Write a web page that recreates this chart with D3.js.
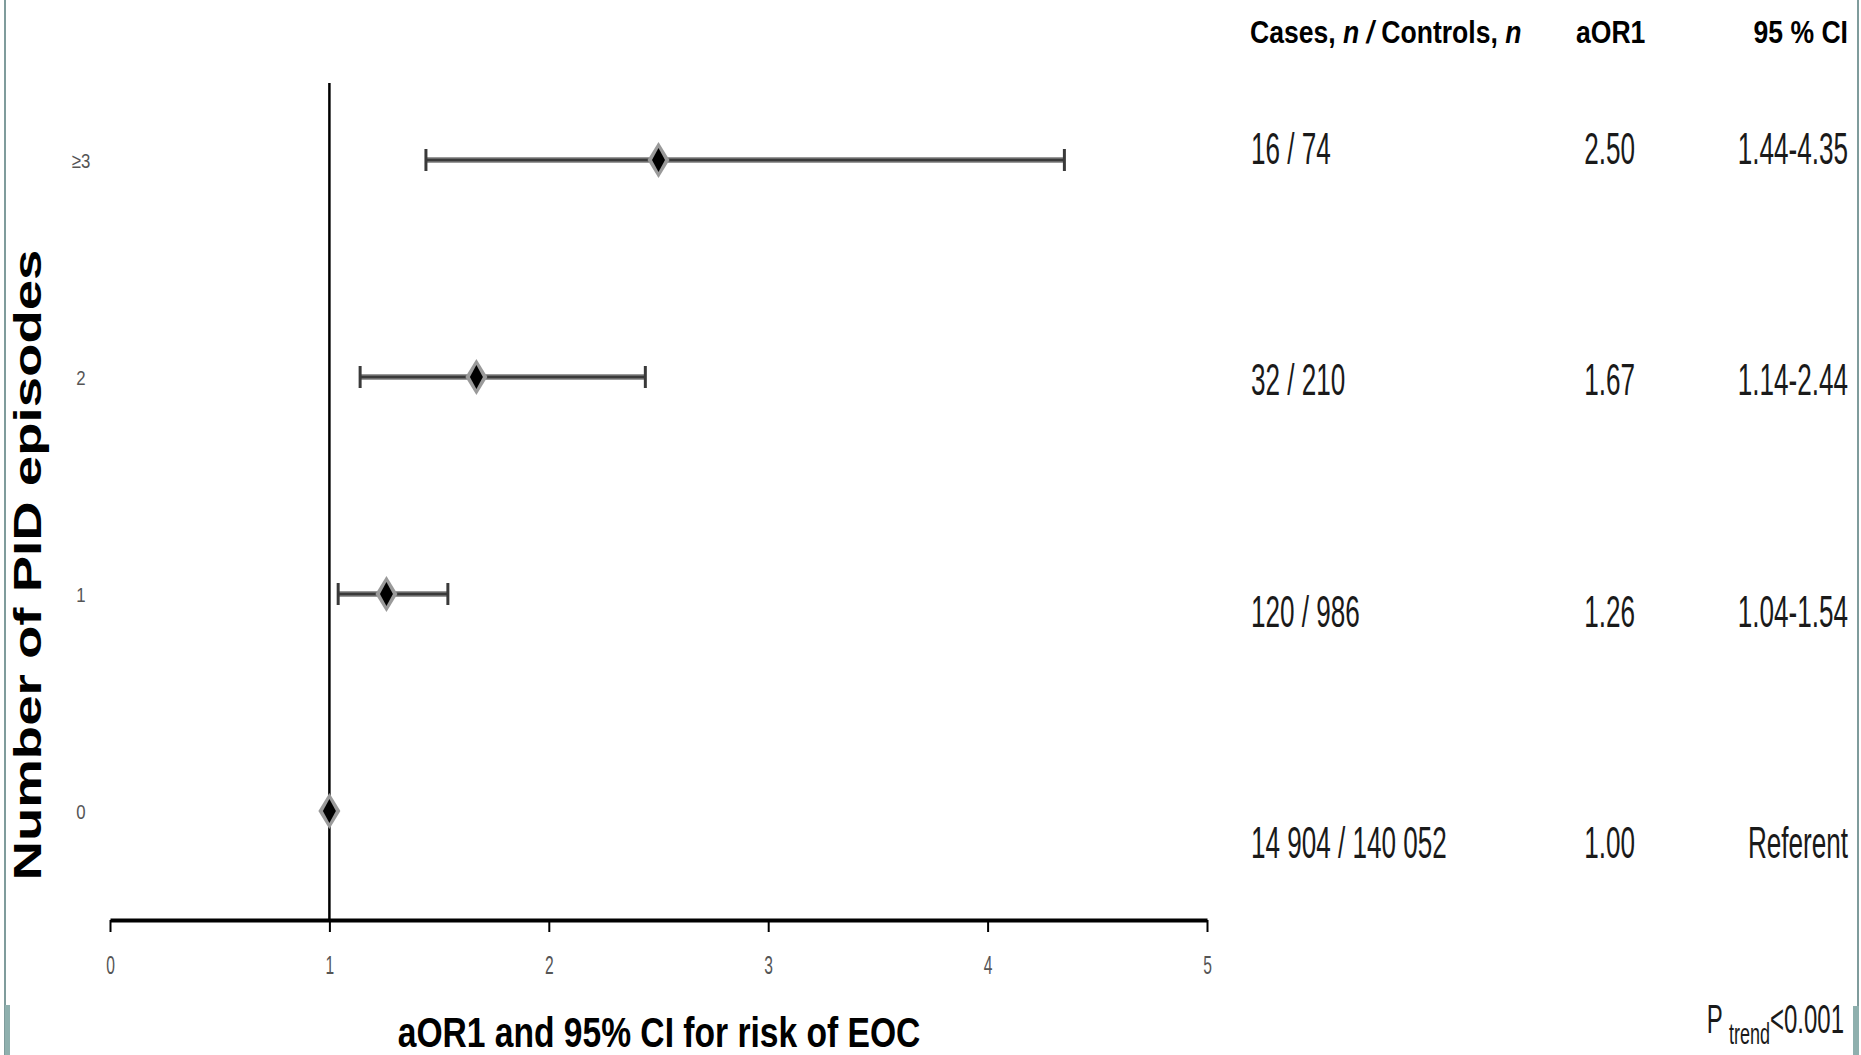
<!DOCTYPE html>
<html>
<head>
<meta charset="utf-8">
<script src="https://cdn.jsdelivr.net/npm/d3@7/dist/d3.min.js"></script>
<style>
  html, body { margin: 0; padding: 0; background: #fff; }
  svg { display: block; }
</style>
</head>
<body>
<script>
// ---------- data ----------
const categories = ["0", "1", "2", "≥3"];
const aor        = [1.00, 1.26, 1.67, 2.50];
const ciLow      = [null, 1.04, 1.14, 1.44];
const ciHigh     = [null, 1.54, 2.44, 4.35];
const cases      = ["14 904", "120", "32", "16"];
const controls   = ["140 052", "986", "210", "74"];
const aorLabels  = ["1.00", "1.26", "1.67", "2.50"];
const ciLabels   = ["Referent", "1.04-1.54", "1.14-2.44", "1.44-4.35"];
const xTicks     = [0, 1, 2, 3, 4, 5];
const referenceValue = 1;
const xTitle = "aOR1 and 95% CI for risk of EOC";
const yTitle = "Number of PID episodes";
const pTrend = "<0.001";

// ---------- setup ----------
const W = 1861, H = 1055;
const svg = d3.select("body").append("svg").attr("width", W).attr("height", H);
const FONT = "'Liberation Sans', Arial, sans-serif";

const rows = categories.map((c, i) => ({
  cat: c, aor: aor[i], lo: ciLow[i], hi: ciHigh[i],
  cases: cases[i], controls: controls[i], aorLabel: aorLabels[i], ci: ciLabels[i]
}));

const x = d3.scaleLinear().domain([0, 5]).range([110, 1207]);
const y = d3.scalePoint().domain(categories).range([811, 160]);
const yTable = d3.scalePoint().domain(categories).range([858, 164]);

// helper: horizontally compressed text
function ctext(g, tx, ty, str, size, sx, opts = {}) {
  const t = g.append("text")
    .attr("transform", `translate(${tx},${ty}) scale(${sx},1)`)
    .attr("font-family", FONT)
    .attr("font-size", size)
    .attr("font-weight", opts.weight || "normal")
    .attr("fill", opts.fill || "#1a1a1a")
    .attr("text-anchor", opts.anchor || "start");
  if (str !== null) t.text(str);
  return t;
}

// ---------- borders ----------
svg.append("line").attr("x1", 5).attr("x2", 5).attr("y1", 0).attr("y2", H)
  .attr("stroke", "#7f9c9c").attr("stroke-width", 2);
svg.append("rect").attr("x", 5).attr("y", 1005).attr("width", 5).attr("height", 50)
  .attr("fill", "#8fb0ae");
svg.append("line").attr("x1", 1858).attr("x2", 1858).attr("y1", 0).attr("y2", H)
  .attr("stroke", "#7f9c9c").attr("stroke-width", 2);
svg.append("rect").attr("x", 1853).attr("y", 1006).attr("width", 6).attr("height", 49)
  .attr("fill", "#8fb0ae");

// ---------- x axis ----------
const xAxis = svg.append("g").attr("transform", "translate(0,920)")
  .call(d3.axisBottom(x).tickValues(xTicks).tickSize(12).tickSizeOuter(0).tickPadding(24).tickFormat(d3.format("d")));
xAxis.select(".domain").attr("stroke", "#000").attr("stroke-width", 4);
xAxis.selectAll(".tick line").attr("stroke", "#000").attr("stroke-width", 2);
xAxis.selectAll(".tick text")
  .attr("font-family", FONT).attr("font-size", 26).attr("fill", "#555")
  .attr("transform", "scale(0.6,1)");

// ---------- y axis (labels only) ----------
const yAxis = svg.append("g").attr("transform", "translate(81,0)")
  .call(d3.axisLeft(y).tickSize(0).tickPadding(0));
yAxis.select(".domain").remove();
yAxis.selectAll(".tick text")
  .attr("font-family", FONT).attr("font-size", 21).attr("fill", "#555")
  .attr("text-anchor", "middle").attr("dy", "0.35em")
  .attr("transform", "scale(0.8,1)");

// ---------- reference line ----------
svg.append("line")
  .attr("x1", x(referenceValue)).attr("x2", x(referenceValue))
  .attr("y1", 83).attr("y2", 920)
  .attr("stroke", "#000").attr("stroke-width", 2.5);

// ---------- CIs ----------
const ciRows = rows.filter(d => d.lo !== null);
const ci = svg.append("g");
ci.selectAll("line.ci").data(ciRows).join("line")
  .attr("class", "ci")
  .attr("x1", d => x(d.lo)).attr("x2", d => x(d.hi))
  .attr("y1", d => y(d.cat)).attr("y2", d => y(d.cat))
  .attr("stroke", "#9a9a9a").attr("stroke-width", 6);
ci.selectAll("line.ci2").data(ciRows).join("line")
  .attr("class", "ci2")
  .attr("x1", d => x(d.lo)).attr("x2", d => x(d.hi))
  .attr("y1", d => y(d.cat)).attr("y2", d => y(d.cat))
  .attr("stroke", "#3a3a3a").attr("stroke-width", 3);
["lo", "hi"].forEach(k => {
  ci.selectAll("line.cap" + k).data(ciRows).join("line")
    .attr("class", "cap" + k)
    .attr("x1", d => x(d[k])).attr("x2", d => x(d[k]))
    .attr("y1", d => y(d.cat) - 11).attr("y2", d => y(d.cat) + 11)
    .attr("stroke", "#3a3a3a").attr("stroke-width", 3);
});

// ---------- diamonds ----------
const diamond = (hw, hh) => `M0,${-hh}L${hw},0L0,${hh}L${-hw},0Z`;
const pts = svg.append("g");
pts.selectAll("path.outer").data(rows).join("path")
  .attr("class", "outer")
  .attr("transform", d => `translate(${x(d.aor)},${y(d.cat)})`)
  .attr("d", diamond(11, 18)).attr("fill", "#9a9a9a");
pts.selectAll("path.inner").data(rows).join("path")
  .attr("class", "inner")
  .attr("transform", d => `translate(${x(d.aor)},${y(d.cat)})`)
  .attr("d", diamond(6.5, 12)).attr("fill", "#000");

// ---------- titles ----------
ctext(svg, 659, 1047, xTitle, 42, 0.80, { weight: "bold", anchor: "middle", fill: "#000" });
svg.append("text")
  .attr("transform", "translate(41,565) rotate(-90) scale(1.40,1)")
  .attr("font-family", FONT).attr("font-size", 39).attr("font-weight", "bold")
  .attr("text-anchor", "middle").attr("fill", "#000")
  .text(yTitle);

// ---------- table ----------
const tbl = svg.append("g");
const h1 = ctext(tbl, 1250, 43, null, 32, 0.83, { weight: "bold", fill: "#000" });
h1.append("tspan").text("Cases, ");
h1.append("tspan").attr("font-style", "italic").text("n");
h1.append("tspan").attr("font-style", "italic").text(" /");
h1.append("tspan").text(" Controls, ");
h1.append("tspan").attr("font-style", "italic").text("n");
ctext(tbl, 1576, 43, "aOR1", 32, 0.83, { weight: "bold", fill: "#000" });
ctext(tbl, 1848, 43, "95 % CI", 32, 0.83, { weight: "bold", anchor: "end", fill: "#000" });

rows.forEach(d => {
  const yy = yTable(d.cat);
  ctext(tbl, 1251, yy, `${d.cases} / ${d.controls}`, 45, 0.58);
  ctext(tbl, 1635, yy, d.aorLabel, 45, 0.58, { anchor: "end" });
  ctext(tbl, 1848, yy, d.ci, 45, 0.58, { anchor: "end" });
});

// P trend
const pt = ctext(tbl, 1844, 1033, null, 40, 0.6, { anchor: "end" });
pt.append("tspan").text("P  ");
pt.append("tspan").attr("font-size", 30).attr("dy", 11).text("trend");
pt.append("tspan").attr("dy", -11).text(pTrend);
</script>
</body>
</html>
